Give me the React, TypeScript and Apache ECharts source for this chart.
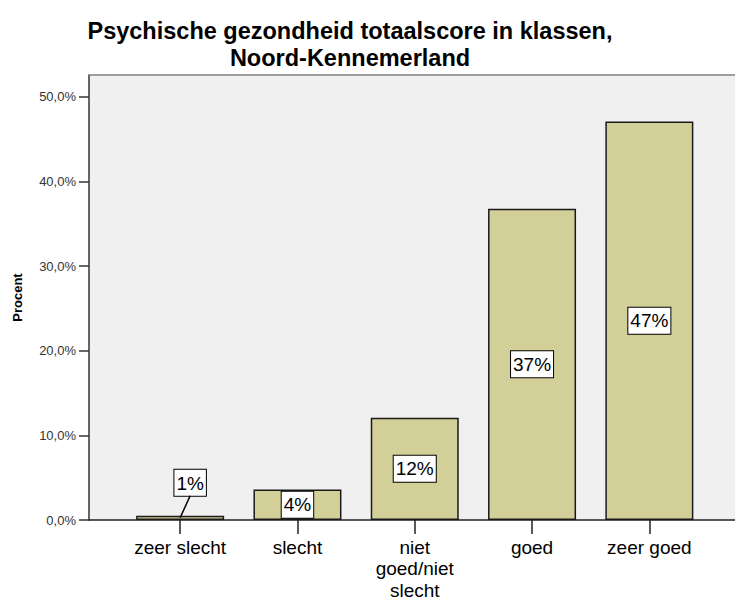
import React, { useEffect, useRef } from "react";
import * as echarts from "echarts";

const categories = ["zeer slecht", "slecht", "niet\ngoed/niet\nslecht", "goed", "zeer goed"];
const percentages = [0.5, 3.6, 12.1, 36.8, 47.1];
const yTicks = [0, 10, 20, 30, 40, 50];
const yMax = 52.6;
const titleLines = ["Psychische gezondheid totaalscore in klassen,", "Noord-Kennemerland"];
const yAxisName = "Procent";

const FONT = "Arial, 'Liberation Sans', sans-serif";

export default function App() {
  const ref = useRef<HTMLDivElement>(null);
  useEffect(() => {
    if (!ref.current) return;
    const chart = echarts.init(ref.current, null, { renderer: "svg" });
    const labelBox = {
      show: true,
      position: "inside",
      formatter: (p: any) => Math.round(p.value) + "%",
      color: "#000",
      fontFamily: FONT,
      fontSize: 19,
      lineHeight: 21,
      backgroundColor: "#fff",
      borderColor: "#000",
      borderWidth: 1,
      padding: [3, 2, 2, 2],
    };
    const smallDist = 20;
    const smallDx = 10;
    const data = percentages.map((v, i) =>
      i === 0
        ? { value: v, label: { position: "top", distance: smallDist } }
        : { value: v }
    );
    chart.setOption({
      animation: false,
      backgroundColor: "#fff",
      graphic: [
        {
          id: "title",
          type: "text",
          x: 350,
          y: 17,
          style: {
            text: titleLines.join("\n"),
            textAlign: "center",
            font: `bold 23.5px ${FONT}`,
            lineHeight: 27,
            fill: "#000",
          },
        },
      ],
      grid: [
        { left: 89, right: 0, top: 75, bottom: 81, show: true, backgroundColor: "#f0f0f0", borderWidth: 0, outerBoundsMode: "none", containLabel: false },
        { left: 121.5, right: 27, top: 75, bottom: 81, outerBoundsMode: "none", containLabel: false },
      ],
      xAxis: [
        {
          gridIndex: 0,
          type: "value",
          min: 0,
          max: 1,
          axisLine: { show: true, lineStyle: { color: "#222", width: 1.5 } },
          axisTick: { show: false },
          axisLabel: { show: false },
          splitLine: { show: false },
        },
        {
          gridIndex: 0,
          type: "value",
          position: "top",
          min: 0,
          max: 1,
          axisLine: { show: true, lineStyle: { color: "#808080", width: 1.5 } },
          axisTick: { show: false },
          axisLabel: { show: false },
          splitLine: { show: false },
        },
        {
          gridIndex: 1,
          type: "category",
          data: categories,
          axisLine: { show: false },
          axisTick: { show: true, alignWithLabel: true, length: 14, lineStyle: { color: "#222", width: 1.5 } },
          axisLabel: { color: "#000", fontFamily: FONT, fontSize: 19, lineHeight: 21.3, margin: 17, interval: 0 },
        },
      ],
      yAxis: [
        {
          gridIndex: 0,
          type: "value",
          min: 0,
          max: yMax,
          interval: 10,
          name: yAxisName,
          nameLocation: "middle",
          nameGap: 65,
          nameRotate: 90,
          nameTextStyle: { fontFamily: FONT, fontSize: 13, fontWeight: "bold", color: "#000" },
          axisLine: { show: true, lineStyle: { color: "#333", width: 1.5 } },
          axisTick: { show: true, length: 10, lineStyle: { color: "#333", width: 1.5 } },
          axisLabel: {
            showMaxLabel: false,
            color: "#333",
            fontFamily: FONT,
            fontSize: 13,
            margin: 13,
            formatter: (v: number) => (yTicks.includes(v) ? v.toFixed(1).replace(".", ",") + "%" : ""),
          },
          splitLine: { show: false },
        },
        {
          gridIndex: 1,
          type: "value",
          min: 0,
          max: yMax,
          show: false,
        },
      ],
      series: [
        {
          type: "bar",
          xAxisIndex: 2,
          yAxisIndex: 1,
          data,
          barWidth: 88,
          itemStyle: { color: "#d3cf98", borderColor: "#1a1a1a", borderWidth: 1.5 },
          label: labelBox,
          labelLayout: (p: any) => (p.dataIndex === 0 ? { dx: smallDx } : {}),
        },
      ],
    });
    const top = chart.convertToPixel({ xAxisIndex: 2, yAxisIndex: 1 } as any, [0, percentages[0]]) as number[];
    chart.setOption({
      graphic: [
        {
          id: "leader",
          type: "line",
          z: 100,
          shape: { x1: top[0] + smallDx, y1: top[1] - smallDist, x2: top[0], y2: top[1] + 2 },
          style: { stroke: "#000", lineWidth: 1.5 },
        },
      ],
    });
    return () => chart.dispose();
  }, []);
  return <div ref={ref} style={{ width: 735, height: 601, position: "absolute", left: 0, top: 0 }} />;
}
